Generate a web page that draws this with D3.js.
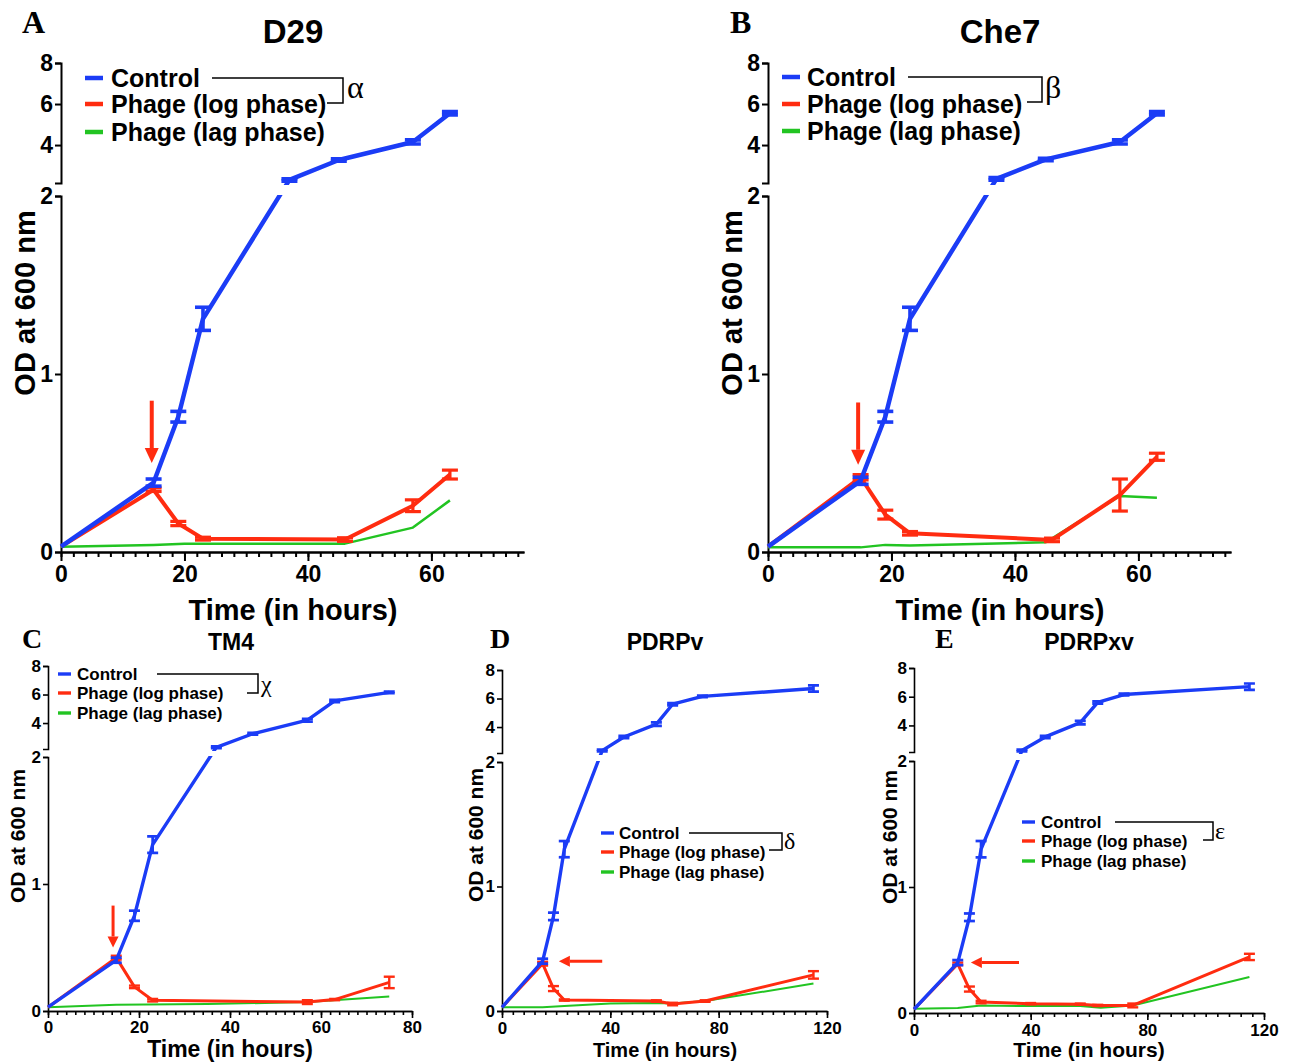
<!DOCTYPE html>
<html>
<head>
<meta charset="utf-8">
<script src="https://cdn.jsdelivr.net/npm/d3@7"></script>
<style>
body { margin: 0; background: #fff; }
svg text { font-family: "Liberation Sans", Arial, sans-serif; font-weight: bold; fill: #000; }
</style>
</head>
<body>
<div id="fig"></div>
<script>
var seriesNames = ["Control", "Phage (log phase)", "Phage (lag phase)"]
var seriesColors = ["#1b3cf6", "#ff2c10", "#22c422"]

// A - D29
var aCtrlHours = [0, 15, 19, 23, 37, 45, 57, 63]
var aCtrlOD = [0.03, 0.39, 0.76, 1.31, 2.3, 3.27, 4.15, 5.55]
var aCtrlErr = [0, 0.02, 0.03, 0.065, 0.06, 0.06, 0.1, 0.08]
var aLogHours = [0, 15, 19, 23, 46, 57, 63]
var aLogOD = [0.03, 0.35, 0.16, 0.075, 0.07, 0.26, 0.435]
var aLogErr = [0, 0.01, 0.012, 0.008, 0.01, 0.033, 0.025]
var aLagHours = [0, 15, 20, 46, 57, 63]
var aLagOD = [0.03, 0.04, 0.047, 0.047, 0.137, 0.29]
var aArrow = [14.7, 0.85, 14.7, 0.5]

// B - Che7
var bCtrlHours = [0, 15, 19, 23, 37, 45, 57, 63]
var bCtrlOD = [0.03, 0.4, 0.76, 1.31, 2.35, 3.3, 4.15, 5.55]
var bCtrlErr = [0, 0.02, 0.03, 0.065, 0.06, 0.06, 0.1, 0.08]
var bLogHours = [0, 15, 19, 23, 46, 57, 63]
var bLogOD = [0.03, 0.42, 0.21, 0.105, 0.068, 0.32, 0.535]
var bLogErr = [0, 0.015, 0.025, 0.01, 0.01, 0.09, 0.02]
var bLagHours = [0, 15, 19, 23, 45, 57, 63]
var bLagOD = [0.026, 0.026, 0.04, 0.036, 0.055, 0.315, 0.305]
var bArrow = [14.6, 0.84, 14.6, 0.49]

// C - TM4
var cCtrlHours = [0, 15, 19, 23, 37, 45, 57, 63, 75]
var cCtrlOD = [0.03, 0.4, 0.75, 1.31, 2.3, 3.25, 4.2, 5.55, 6.15]
var cCtrlErr = [0, 0.02, 0.04, 0.065, 0.06, 0.06, 0.1, 0.08, 0.06]
var cLogHours = [0, 15, 19, 23, 57, 63, 75]
var cLogOD = [0.03, 0.42, 0.19, 0.085, 0.07, 0.09, 0.225]
var cLogErr = [0, 0.015, 0.01, 0.01, 0.015, 0.005, 0.045]
var cLagHours = [0, 15, 35, 57, 75]
var cLagOD = [0.03, 0.05, 0.055, 0.07, 0.115]
var cArrow = [14.3, 0.83, 14.3, 0.5]

// D - PDRPv
var dCtrlHours = [0, 15, 19, 23, 37, 45, 57, 63, 74, 115]
var dCtrlOD = [0.03, 0.4, 0.76, 1.3, 2.35, 3.3, 4.2, 5.6, 6.15, 6.7]
var dCtrlErr = [0, 0.02, 0.03, 0.065, 0.06, 0.08, 0.12, 0.08, 0.06, 0.22]
var dLogHours = [0, 15, 19, 23, 57, 63, 75, 115]
var dLogOD = [0.03, 0.38, 0.18, 0.088, 0.08, 0.056, 0.08, 0.29]
var dLogErr = [0, 0.015, 0.02, 0.005, 0.006, 0.01, 0.006, 0.03]
var dLagHours = [0, 15, 23, 40, 57, 63, 75, 115]
var dLagOD = [0.03, 0.03, 0.04, 0.06, 0.065, 0.06, 0.08, 0.22]
var dArrow = [37, 0.4, 21, 0.4]

// E - PDRPxv
var eCtrlHours = [0, 15, 19, 23, 37, 45, 57, 63, 72, 115]
var eCtrlOD = [0.03, 0.4, 0.76, 1.3, 2.25, 3.2, 4.2, 5.6, 6.15, 6.7]
var eCtrlErr = [0, 0.02, 0.03, 0.065, 0.06, 0.08, 0.12, 0.08, 0.06, 0.22]
var eLogHours = [0, 15, 19, 23, 40, 57, 63, 75, 115]
var eLogOD = [0.03, 0.39, 0.19, 0.087, 0.074, 0.07, 0.06, 0.06, 0.445]
var eLogErr = [0, 0.01, 0.02, 0.01, 0.005, 0.005, 0.005, 0.015, 0.025]
var eLagHours = [0, 15, 23, 40, 57, 64, 75, 115]
var eLagOD = [0.034, 0.04, 0.06, 0.055, 0.055, 0.042, 0.06, 0.286]
var eArrow = [36, 0.4, 19.5, 0.4]

var svg = d3.select("#fig").append("svg").attr("width", 1294).attr("height", 1063)

function zip(h, v, e) {
    return h.map(function (d, i) { return {h: d, v: v[i], e: e ? e[i] : 0} })
}

var big = {tick: 23, title: 33, axisTitle: 29, legend: 25, greek: 32, letter: 32,
    widths: [4.5, 4, 2.5], cap: 16, tickLen: 9, minorLen: 5, yTick: 6, axisW: 2, legLen: 18, head: [15, 7], arrowW: 4}
var small = {tick: 17, title: 23, axisTitle: 21, legend: 18, greek: 24, letter: 28,
    widths: [3.4, 3, 2], cap: 11, tickLen: 7, minorLen: 4, yTick: 5, axisW: 1.6, legLen: 13, head: [11, 5.5], arrowW: 3}

var panels = [
    {id: "A", name: "D29", s: big, left: 61, right: 524, xMax: 75, major: 20, minor: 2,
        bottom: 552, lowTop: 196, upBottom: 183, top: 63, upMin: 2.15,
        ctrl: zip(aCtrlHours, aCtrlOD, aCtrlErr), log: zip(aLogHours, aLogOD, aLogErr), lag: zip(aLagHours, aLagOD), arrow: aArrow,
        letter: [22, 33], title: [293, 43], yTitle: [35, 303], xTitle: [293, 620], xLabY: 5,
        legend: {x: 85, text: 111, rows: [78, 104, 132], base: 9, font: 25, bracket: [212, 343, 103, 327], greek: "α", gx: 347, gy: 98}},
    {id: "B", name: "Che7", s: big, left: 768, right: 1231, xMax: 75, major: 20, minor: 2,
        bottom: 552, lowTop: 196, upBottom: 183, top: 63, upMin: 2.15,
        ctrl: zip(bCtrlHours, bCtrlOD, bCtrlErr), log: zip(bLogHours, bLogOD, bLogErr), lag: zip(bLagHours, bLagOD), arrow: bArrow,
        letter: [730, 33], title: [1000, 43], yTitle: [742, 303], xTitle: [1000, 620], xLabY: 5,
        legend: {x: 782, text: 807, rows: [77, 104, 131], base: 9, font: 25, bracket: [908, 1042, 102, 1027], greek: "β", gx: 1045, gy: 98}},
    {id: "C", name: "TM4", s: small, left: 48, right: 412, xMax: 80, major: 20, minor: 2,
        bottom: 1011, lowTop: 757, upBottom: 749, top: 666, upMin: 2.18, axisTitle: 23,
        ctrl: zip(cCtrlHours, cCtrlOD, cCtrlErr), log: zip(cLogHours, cLogOD, cLogErr), lag: zip(cLagHours, cLagOD), arrow: cArrow,
        letter: [22, 648], title: [231, 650], yTitle: [25, 836], xTitle: [230, 1057], xLabY: 3,
        legend: {x: 58, text: 77, rows: [674, 693, 713], base: 6, font: 17, bracket: [157, 258, 693, 247], greek: "χ", gx: 261, gy: 692}},
    {id: "D", name: "PDRPv", s: small, left: 502, right: 827, xMax: 120, major: 40, minor: 4,
        bottom: 1011, lowTop: 762, upBottom: 753, top: 670, upMin: 2.18, axisTitle: 20,
        ctrl: zip(dCtrlHours, dCtrlOD, dCtrlErr), log: zip(dLogHours, dLogOD, dLogErr), lag: zip(dLagHours, dLagOD), arrow: dArrow,
        letter: [490, 648], title: [665, 650], yTitle: [483, 835], xTitle: [665, 1057], xLabY: 4,
        legend: {x: 601, text: 619, rows: [833, 852, 872], base: 6, font: 17, bracket: [689, 782, 850, 769], greek: "δ", gx: 784, gy: 849}},
    {id: "E", name: "PDRPxv", s: small, left: 914, right: 1264, xMax: 120, major: 40, minor: 4,
        bottom: 1013, lowTop: 761, upBottom: 752, top: 668, upMin: 2.15, axisTitle: 21,
        ctrl: zip(eCtrlHours, eCtrlOD, eCtrlErr), log: zip(eLogHours, eLogOD, eLogErr), lag: zip(eLagHours, eLagOD), arrow: eArrow,
        letter: [935, 648], title: [1089, 650], yTitle: [897, 837], xTitle: [1089, 1057], xLabY: 4,
        legend: {x: 1022, text: 1041, rows: [822, 841, 861], base: 6, font: 17, bracket: [1115, 1213, 840, 1203], greek: "ε", gx: 1215, gy: 839}}
]

panels.forEach(drawPanel)

function styleAxis(g, s, size) {
    g.attr("font-family", null).attr("font-size", size)
    g.selectAll("path, line").attr("stroke", "#000").attr("stroke-width", s.axisW)
    g.selectAll("text").attr("font-weight", "bold")
}

function drawPanel(p) {
    var s = p.s
    var g = svg.append("g")

    var x = d3.scaleLinear().domain([0, p.xMax]).range([p.left, p.right])
    var yLow = d3.scaleLinear().domain([0, 2]).range([p.bottom, p.lowTop])
    var yUp = d3.scaleLinear().domain([p.upMin, 8]).range([p.upBottom, p.top])
    var y = function (v) { return v <= 2 ? yLow(v) : yUp(v) }

    // axes
    var xMinor = d3.axisBottom(x).tickValues(d3.range(0, p.xMax + 0.1, p.minor))
        .tickFormat("").tickSize(s.minorLen).tickSizeOuter(0)
    styleAxis(g.append("g").attr("transform", "translate(0," + p.bottom + ")").call(xMinor), s, s.tick)
    var xMajor = d3.axisBottom(x).tickValues(d3.range(0, p.xMax + 0.1, p.major))
        .tickFormat(d3.format("d")).tickSize(s.tickLen).tickSizeOuter(0).tickPadding(p.xLabY)
    styleAxis(g.append("g").attr("transform", "translate(0," + p.bottom + ")").call(xMajor), s, s.tick)

    var yAxLow = d3.axisLeft(yLow).tickValues([0, 1, 2]).tickFormat(d3.format("d"))
        .tickSize(s.yTick).tickSizeOuter(s.yTick).tickPadding(2)
    styleAxis(g.append("g").attr("transform", "translate(" + p.left + ",0)").call(yAxLow), s, s.tick)
    var yAxUp = d3.axisLeft(yUp).tickValues([4, 6, 8]).tickFormat(d3.format("d"))
        .tickSize(s.yTick).tickSizeOuter(s.yTick).tickPadding(2)
    styleAxis(g.append("g").attr("transform", "translate(" + p.left + ",0)").call(yAxUp), s, s.tick)

    // clip out the gap of the broken axis
    var clipId = "clip" + p.id
    var clip = svg.append("clipPath").attr("id", clipId)
    clip.append("rect").attr("x", p.left - 20).attr("y", p.top - 20)
        .attr("width", p.right - p.left + 60).attr("height", p.upBottom - p.top + 22)
    clip.append("rect").attr("x", p.left - 20).attr("y", p.lowTop - 1)
        .attr("width", p.right - p.left + 60).attr("height", p.bottom - p.lowTop + 20)

    var plot = g.append("g").attr("clip-path", "url(#" + clipId + ")")
    var line = d3.line().x(function (d) { return x(d.h) }).y(function (d) { return y(d.v) })

    var series = [p.lag, p.log, p.ctrl]
    var order = [2, 1, 0]
    series.forEach(function (data, k) {
        var ci = order[k]
        plot.append("path").datum(data)
            .attr("d", line)
            .attr("fill", "none")
            .attr("stroke", seriesColors[ci])
            .attr("stroke-width", s.widths[ci])
            .attr("stroke-linejoin", "round")

        var bars = plot.selectAll(".eb" + ci).data(data.filter(function (d) { return d.e > 0 }))
            .enter().append("g").attr("class", "eb" + ci)
            .attr("stroke", seriesColors[ci]).attr("stroke-width", s.widths[ci] * 0.8)
        bars.append("line")
            .attr("x1", function (d) { return x(d.h) }).attr("x2", function (d) { return x(d.h) })
            .attr("y1", function (d) { return y(d.v - d.e) }).attr("y2", function (d) { return y(d.v + d.e) })
        bars.append("line")
            .attr("x1", function (d) { return x(d.h) - s.cap / 2 }).attr("x2", function (d) { return x(d.h) + s.cap / 2 })
            .attr("y1", function (d) { return y(d.v - d.e) }).attr("y2", function (d) { return y(d.v - d.e) })
        bars.append("line")
            .attr("x1", function (d) { return x(d.h) - s.cap / 2 }).attr("x2", function (d) { return x(d.h) + s.cap / 2 })
            .attr("y1", function (d) { return y(d.v + d.e) }).attr("y2", function (d) { return y(d.v + d.e) })
    })

    // arrow marking phage addition
    var a = p.arrow
    var x0 = x(a[0]), y0 = yLow(a[1]), x1 = x(a[2]), y1 = yLow(a[3])
    var len = Math.hypot(x1 - x0, y1 - y0), ux = (x1 - x0) / len, uy = (y1 - y0) / len
    var bx = x1 - ux * s.head[0], by = y1 - uy * s.head[0]
    g.append("line").attr("x1", x0).attr("y1", y0).attr("x2", bx).attr("y2", by)
        .attr("stroke", seriesColors[1]).attr("stroke-width", s.arrowW)
    g.append("polygon")
        .attr("points", [[x1, y1], [bx - uy * s.head[1], by + ux * s.head[1]], [bx + uy * s.head[1], by - ux * s.head[1]]].join(" "))
        .attr("fill", seriesColors[1])

    // legend
    var L = p.legend
    seriesNames.forEach(function (name, i) {
        g.append("line").attr("x1", L.x).attr("x2", L.x + s.legLen)
            .attr("y1", L.rows[i]).attr("y2", L.rows[i])
            .attr("stroke", seriesColors[i]).attr("stroke-width", s.widths[0])
        g.append("text").attr("x", L.text).attr("y", L.rows[i] + L.base)
            .attr("font-size", L.font).text(name)
    })
    var br = L.bracket
    g.append("path")
        .attr("d", "M" + br[0] + "," + L.rows[0] + "H" + br[1] + "V" + br[2] + "H" + br[3])
        .attr("fill", "none").attr("stroke", "#000").attr("stroke-width", 1.5)
    g.append("text").attr("x", L.gx).attr("y", L.gy)
        .style("font-family", "'Liberation Serif', 'Times New Roman', serif").style("font-weight", "normal")
        .attr("font-size", s.greek).text(L.greek)

    // titles
    g.append("text").attr("x", p.letter[0]).attr("y", p.letter[1])
        .style("font-family", "'Liberation Serif', 'Times New Roman', serif")
        .attr("font-size", s.letter).text(p.id)
    g.append("text").attr("x", p.title[0]).attr("y", p.title[1])
        .attr("text-anchor", "middle").attr("font-size", s.title).text(p.name)
    g.append("text").attr("x", p.xTitle[0]).attr("y", p.xTitle[1])
        .attr("text-anchor", "middle").attr("font-size", p.axisTitle || s.axisTitle).text("Time (in hours)")
    g.append("text")
        .attr("transform", "translate(" + p.yTitle[0] + "," + p.yTitle[1] + ") rotate(-90)")
        .attr("text-anchor", "middle").attr("font-size", s.axisTitle - (p.id == "C" ? 0 : 0)).text("OD at 600 nm")
}
</script>
</body>
</html>
